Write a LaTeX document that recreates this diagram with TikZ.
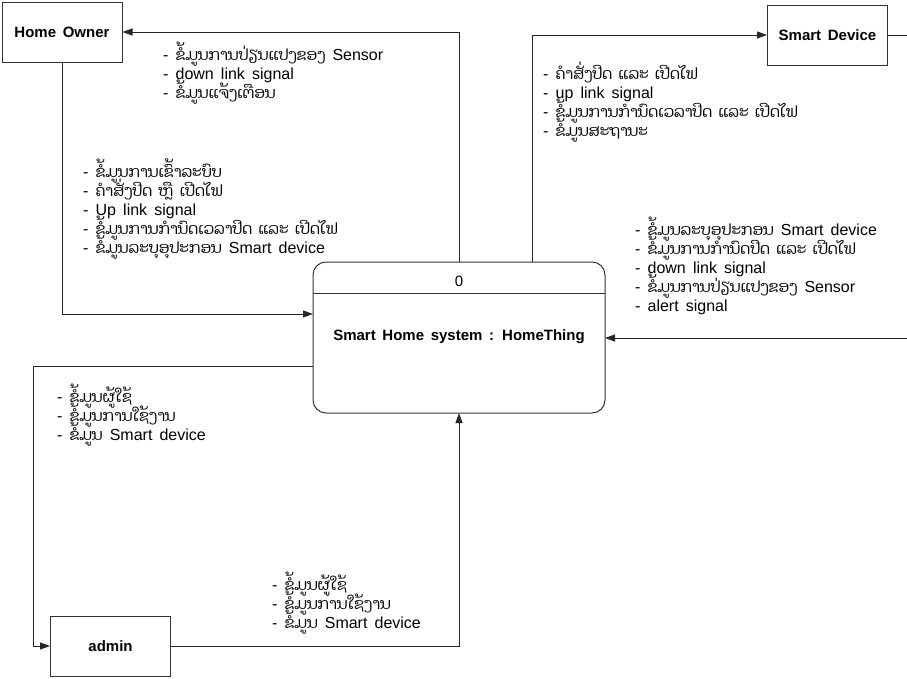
\documentclass[tikz,border=0pt]{standalone}
\usepackage{fontspec}
\setmainfont{Liberation Sans}[WordSpace=1.6]
\newfontfamily\lao[Script=Lao,WordSpace=1.6,Scale=0.965]{Dhyana}
\usetikzlibrary{arrows.meta}
% keep a fixed line pitch even when stacked Lao marks are tall
\newcommand\fixedpitch{\lineskiplimit=-1000pt\relax\lineskip=0pt\relax}

\begin{document}
\begin{tikzpicture}[x=1pt,y=-1pt,
  entity/.style={draw=black!80, line width=1pt, inner sep=0pt,
    minimum width=120pt, minimum height=60pt,
    font=\bfseries\fontsize{15}{18}\selectfont},
  flow/.style={draw=black!85, line width=0.9pt,
    -{Triangle[length=10pt,width=7pt]}},
  % anchored at the baseline of the last line
  note/.style={anchor=base west, inner sep=0pt, align=left,
    font={\fontsize{16}{19}\selectfont\fixedpitch}}]

\useasboundingbox (0,0) rectangle (907,678);

% external entities
\node[entity] (owner)  at (62,32)   {Home Owner};
\node[entity] (device) at (827.5,35) {Smart Device};
\node[entity] (admin)  at (110.5,646) {admin};

% process
\draw[draw=black!80, line width=1pt, rounded corners=13pt]
  (313,262) rectangle (605,413);
\node[draw=none, minimum width=292pt, minimum height=151pt, inner sep=0pt]
  (proc) at (459,337.5) {};
\draw[draw=black!80, line width=1pt] (313,293) -- (605,293);
\node[font=\fontsize{15}{18}\selectfont, inner sep=0pt] (pnum) at (459,281) {0};
\node[font=\bfseries\fontsize{15}{18}\selectfont, inner sep=0pt] (pname)
  at (459,337) {Smart Home system : HomeThing};

% connection points
\coordinate (pTopL)  at (459,262);
\coordinate (pTopR)  at (532,262);
\coordinate (pLeftT) at (313,314);
\coordinate (pLeftB) at (313,366);
\coordinate (pRight) at (605,338);
\coordinate (pBot)   at (459,413);

% data flows
\draw[flow] (pTopL) |- (owner.east);
\draw[flow] (owner.south) |- (pLeftT);
\draw[flow] (pTopR) |- (device.west);
\draw[flow] (device.east) -- ++(19,0) |- (pRight);
\draw[flow] (pLeftB) -- (33,366) |- (admin.west);
\draw[flow] (admin.east) -| (pBot);

% flow labels
\node[note] (tA) at (163,98) {- {\lao ຂໍ້ມູນການປ່ຽນແປງຂອງ} Sensor\\
- down link signal\\
- {\lao ຂໍ້ມູນແຈ້ງເຕືອນ}};

\node[note] (tB) at (83,253) {- {\lao ຂໍ້ມູນການເຂົ້າລະບົບ}\\
- {\lao ຄຳສັ່ງປິດ ຫຼື ເປີດໄຟ}\\
- Up link signal\\
- {\lao ຂໍ້ມູນການກຳນົດເວລາປິດ ແລະ ເປີດໄຟ}\\
- {\lao ຂໍ້ມູນລະບຸອຸປະກອນ} Smart device};

\node[note] (tC) at (543,136) {- {\lao ຄຳສັ່ງປິດ ແລະ ເປີດໄຟ}\\
- up link signal\\
- {\lao ຂໍ້ມູນການກຳນົດເວລາປິດ ແລະ ເປີດໄຟ}\\
- {\lao ຂໍ້ມູນສະຖານະ}};

\node[note] (tD) at (635,311) {- {\lao ຂໍ້ມູນລະບຸອຸປະກອນ} Smart device\\
- {\lao ຂໍ້ມູນການກຳນົດປິດ ແລະ ເປີດໄຟ}\\
- down link signal\\
- {\lao ຂໍ້ມູນການປ່ຽນແປງຂອງ} Sensor\\
- alert signal};

\node[note] (tE) at (57,440) {- {\lao ຂໍ້ມູນຜູ້ໃຊ້}\\
- {\lao ຂໍ້ມູນການໃຊ້ງານ}\\
- {\lao ຂໍ້ມູນ} Smart device};

\node[note] (tF) at (272,628) {- {\lao ຂໍ້ມູນຜູ້ໃຊ້}\\
- {\lao ຂໍ້ມູນການໃຊ້ງານ}\\
- {\lao ຂໍ້ມູນ} Smart device};

\end{tikzpicture}
\end{document}
